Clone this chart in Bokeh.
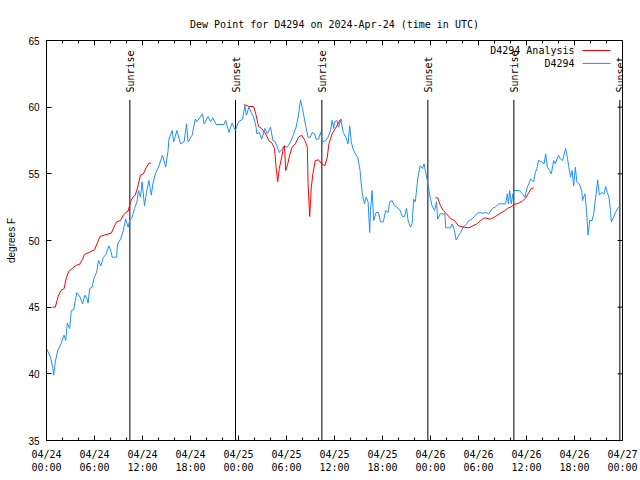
import math
from bokeh.plotting import figure
from bokeh.models import Range1d, FixedTicker, Title, ColumnDataSource
from bokeh.core.properties import value
from bokeh.embed import file_html
from bokeh.resources import INLINE

# ---------------- data ----------------
title_text = "Dew Point for D4294 on 2024-Apr-24 (time in UTC)"
y_label = "degrees F"
x_tick_hours = [0, 6, 12, 18, 24, 30, 36, 42, 48, 54, 60, 66, 72]
x_tick_labels = ["04/24\n00:00", "04/24\n06:00", "04/24\n12:00", "04/24\n18:00",
                 "04/25\n00:00", "04/25\n06:00", "04/25\n12:00", "04/25\n18:00",
                 "04/26\n00:00", "04/26\n06:00", "04/26\n12:00", "04/26\n18:00",
                 "04/27\n00:00"]
x_minor_hours = list(range(0, 73, 2))
y_ticks = [35, 40, 45, 50, 55, 60, 65]
series_names = ["D4294 Analysis", "D4294"]

# observations (hours since 04/24 00:00 UTC, dew point degF)
obs_hours = [0.0, 0.5, 0.8, 0.9, 1.1, 1.4, 1.8, 2.2, 2.4, 2.6, 2.9, 3.1, 3.4, 3.6, 3.8,
             4.2, 4.5, 4.8, 5.1, 5.2, 5.4, 5.7, 5.9, 6.25, 6.5, 6.8, 7.1, 7.4, 7.8, 8.1,
             8.2, 8.75, 8.9, 9.25, 9.6, 9.9, 10.2, 10.4, 10.7, 11.0, 11.3, 11.5, 11.75,
             11.95, 12.25, 12.5, 12.8, 13.1, 13.3, 13.6, 14.0, 14.5, 14.9, 15.2, 15.3,
             15.7, 15.9, 16.3, 16.75, 17.2, 17.5, 17.7, 18.2, 18.6, 18.8, 19.2, 19.5,
             19.7, 20.2, 20.5, 20.8, 21.2, 22.2, 22.4, 22.8, 23.2, 23.6, 24.0, 24.5,
             24.8, 25.0, 25.3, 25.6, 25.9, 26.2, 26.3, 26.6, 26.9, 27.3, 27.6, 28.0,
             28.3, 28.6, 29.1, 29.5, 29.7, 30.1, 30.5, 30.9, 31.2, 31.5, 31.75, 32.0,
             32.2, 32.4, 32.7, 33.0, 33.2, 33.5, 33.7, 34.0, 34.25, 34.5, 34.9, 35.2,
             35.5, 35.7, 35.9, 36.0, 36.3, 36.5, 36.8, 37.1, 37.4, 37.7, 37.9, 38.1,
             38.3, 38.6, 38.9, 39.2, 39.3, 39.5, 39.75, 39.96, 40.2, 40.4, 40.5, 40.7,
             40.9, 41.2, 41.5, 41.75, 42.1, 42.4, 42.7, 42.9, 43.2, 43.5, 43.8, 44.2,
             44.5, 44.75, 45.0, 45.2, 45.5, 45.7, 45.9, 46.1, 46.4, 46.7, 47.0, 47.2,
             47.4, 47.6, 47.8, 48.0, 48.2, 48.5, 48.75, 48.9, 49.2, 49.8, 49.9, 50.5,
             50.7, 51.0, 51.2, 51.4, 51.75, 52.1, 52.5, 52.8, 53.2, 53.6, 54.0, 54.4,
             54.9, 55.3, 55.7, 56.1, 56.5, 57.4, 57.6, 57.75, 57.9, 58.1, 58.3, 58.5,
             59.1, 59.5, 59.8, 60.1, 60.3, 60.5, 60.7, 60.9, 61.1, 61.3, 61.5, 61.9,
             62.2, 62.4, 62.6, 62.9, 63.1, 63.4, 63.6, 64.0, 64.25, 64.5, 64.9, 65.1,
             65.3, 65.5, 65.7, 65.9, 66.1, 66.3, 66.6, 66.9, 67.0, 67.3, 67.5, 67.7,
             67.9, 68.2, 68.4, 68.6, 68.9, 69.1, 69.4, 69.7, 69.9, 70.1, 70.3, 70.5,
             70.6, 70.9, 71.1, 71.5, 71.75]
obs_dewpt = [41.9, 41.25, 40.4, 39.9, 40.9, 41.75, 42.25, 42.9, 42.5, 43.8, 43.4, 44.75,
             44.8, 45.5, 46.1, 45.75, 45.25, 45.9, 45.6, 45.3, 46.4, 46.5, 47.1, 47.6,
             48.5, 48.1, 48.75, 48.9, 49.6, 49.1, 48.75, 48.75, 49.75, 50.1, 50.75, 51.6,
             51.0, 51.5, 51.75, 52.4, 52.9, 53.75, 53.25, 54.4, 52.6, 53.6, 54.5, 53.4,
             54.25, 55.0, 55.5, 56.4, 55.5, 56.75, 57.6, 58.25, 57.4, 58.25, 57.25, 57.4,
             58.75, 57.4, 57.9, 59.1, 58.9, 59.25, 59.5, 58.75, 59.3, 58.9, 59.2, 58.7,
             58.7, 59.0, 58.1, 58.8, 58.25, 58.9, 59.1, 60.1, 59.4, 60.0, 59.6, 59.25,
             58.5, 58.0, 58.1, 57.6, 58.4, 58.0, 58.5, 57.5, 57.4, 56.6, 56.9, 57.1,
             57.0, 57.4, 58.0, 58.5, 59.4, 60.55, 59.9, 59.25, 58.6, 57.75, 57.75, 58.1,
             58.0, 57.6, 57.6, 58.1, 57.4, 57.5, 57.75, 58.25, 59.0, 58.4, 58.9, 59.0,
             58.5, 59.05, 58.1, 57.75, 57.25, 58.6, 57.4, 56.9, 56.5, 56.25, 55.25, 54.5,
             53.4, 52.75, 53.25, 52.9, 50.6, 52.25, 53.75, 51.5, 52.1, 52.1, 51.4, 51.4,
             52.25, 52.1, 52.9, 53.0, 52.6, 52.5, 52.25, 51.8, 51.8, 52.4, 51.5, 51.0,
             51.25, 53.1, 52.9, 54.6, 55.6, 55.4, 55.75, 55.1, 54.5, 53.75, 53.1, 52.6,
             52.25, 52.9, 51.6, 52.0, 52.0, 50.95, 50.95, 51.25, 50.75, 50.05, 50.25,
             50.6, 51.0, 51.25, 51.5, 51.6, 51.9, 52.1, 52.05, 52.1, 52.0, 52.4, 52.5,
             52.75, 52.75, 53.5, 52.75, 53.75, 52.75, 53.5, 53.75, 53.75, 53.5, 53.25,
             54.0, 54.25, 54.6, 54.5, 54.4, 55.1, 55.4, 56.0, 55.9, 55.75, 56.5, 55.5,
             55.25, 55.0, 56.0, 55.75, 56.4, 56.1, 56.0, 56.9, 56.25, 55.5, 54.75, 55.25,
             54.1, 55.5, 54.4, 54.25, 53.75, 53.0, 53.5, 52.25, 50.4, 51.5, 51.5, 52.0,
             53.0, 54.55, 53.4, 53.6, 53.5, 54.05, 53.6, 53.25, 52.25, 51.4, 51.75, 52.1,
             52.5, 52.4]

# analysis, three runs
ana1_hours = [0.75, 1.1, 1.5, 1.8, 2.2, 2.5, 2.8, 3.2, 3.6, 4.2, 4.5, 4.75, 5.3, 6.0,
              6.3, 6.7, 7.2, 8.1, 8.4, 8.75, 9.25, 9.6, 9.9, 10.2, 10.5, 10.8, 11.1,
              11.4, 11.75, 12.1, 12.5, 12.8, 13.1]
ana1_dewpt = [45.0, 45.0, 45.9, 46.25, 46.4, 47.25, 47.7, 47.9, 48.1, 48.25, 48.6,
              48.95, 49.1, 49.3, 49.75, 50.3, 50.4, 50.55, 50.95, 51.4, 51.5, 51.9,
              52.1, 52.2, 52.9, 53.25, 53.4, 54.0, 54.9, 55.0, 55.5, 55.8, 55.8]
ana2_hours = [24.67, 25.3, 25.9, 26.2, 26.5, 26.9, 27.4, 27.8, 28.2, 28.5, 28.7, 28.9,
              29.1, 29.4, 29.6, 29.75, 29.9, 30.1, 30.4, 30.7, 31.1, 31.5, 31.9, 32.3,
              32.6, 32.7, 32.9, 33.1, 33.3, 33.6, 34.0, 34.4, 34.8, 35.1, 35.3, 35.7,
              36.1, 36.3, 36.7, 36.9]
ana2_dewpt = [60.2, 60.05, 60.05, 59.4, 58.55, 58.4, 58.0, 57.5, 57.3, 56.9, 55.5, 54.4,
              55.4, 56.25, 56.9, 57.1, 55.25, 55.6, 56.4, 57.0, 57.25, 57.75, 57.9, 57.5,
              57.0, 54.25, 51.8, 54.0, 55.0, 56.0, 56.05, 55.75, 55.6, 56.25, 57.25, 58.0,
              58.4, 58.6, 59.05, 59.05]
ana3_hours = [48.6, 48.9, 49.25, 49.6, 50.0, 50.6, 51.0, 51.5, 52.2, 52.8, 53.3, 53.8,
              54.25, 54.8, 55.5, 56.1, 56.6, 57.2, 57.6, 58.0, 58.5, 59.0, 59.5, 59.9,
              60.3, 60.6, 60.9]
ana3_dewpt = [53.2, 53.2, 52.6, 52.25, 52.0, 51.6, 51.5, 51.1, 51.0, 50.95, 51.1, 51.25,
              51.5, 51.7, 51.6, 51.8, 52.0, 52.2, 52.4, 52.5, 52.7, 52.8, 52.95, 53.2,
              53.6, 53.9, 53.95]

event_hours = [10.42, 23.63, 34.42, 47.67, 58.42, 71.67]
event_names = ["Sunrise", "Sunset", "Sunrise", "Sunset", "Sunrise", "Sunset"]

# ---------------- style ----------------
MONO = "DejaVu Sans Mono"
SANS = "Liberation Sans"
RED = "#ff0000"
BLUE = "#1e90ff"
X0, X1 = x_tick_hours[0], x_tick_hours[-1]
Y0, Y1 = y_ticks[0], y_ticks[-1]

p = figure(width=640, height=480, output_backend="svg", toolbar_location=None,
           x_range=Range1d(X0, X1), y_range=Range1d(Y0, Y1), title=None,
           min_border_left=46, min_border_right=18, min_border_top=40,
           min_border_bottom=40)
p.xgrid.visible = False
p.ygrid.visible = False
p.outline_line_color = "black"
p.outline_line_alpha = 1.0
p.background_fill_color = "white"
p.border_fill_color = "white"

xt = FixedTicker(ticks=x_tick_hours, minor_ticks=x_minor_hours)
yt = FixedTicker(ticks=y_ticks, minor_ticks=[])

def style_axis(ax, minor=True):
    ax.axis_line_color = "black"
    ax.major_tick_line_color = "black"
    ax.minor_tick_line_color = "black"
    ax.major_tick_in = 5
    ax.major_tick_out = 0
    ax.minor_tick_in = 3 if minor else 0
    ax.minor_tick_out = 0

xa = p.xaxis[0]
xa.ticker = xt
xa.major_label_overrides = {h: lab for h, lab in zip(x_tick_hours, x_tick_labels)}
xa.major_label_text_font = MONO
xa.major_label_text_font_size = "10px"
xa.major_label_text_color = "black"
xa.major_label_standoff = 8
style_axis(xa)

ya = p.yaxis[0]
ya.ticker = yt
ya.major_label_text_font = SANS
ya.major_label_text_font_size = "10px"
ya.major_label_text_color = "black"
ya.major_label_standoff = 7
ya.axis_label = y_label
ya.axis_label_text_font = SANS
ya.axis_label_text_font_size = "10px"
ya.axis_label_text_font_style = "normal"
ya.axis_label_text_color = "black"
ya.axis_label_standoff = 8
style_axis(ya, minor=False)

# mirrored inward ticks on the top and right edges of the frame
p.ray(x=x_tick_hours, y=Y1, length=5, length_units="screen", angle=-math.pi / 2,
      line_color="black", line_width=1)
p.ray(x=x_minor_hours, y=Y1, length=3, length_units="screen", angle=-math.pi / 2,
      line_color="black", line_width=1)
p.ray(x=X1, y=y_ticks, length=5, length_units="screen", angle=math.pi,
      line_color="black", line_width=1)

p.add_layout(Title(text=title_text, align="center", text_font=MONO,
                   text_font_size="10px", text_font_style="normal",
                   text_color="black", standoff=22), "above")

# sunrise / sunset markers
ev = ColumnDataSource(dict(x=event_hours, name=event_names))
LINE_TOP = 60.55
LABEL_BASE = 61.1
p.segment(x0="x", y0=Y0, x1="x", y1=LINE_TOP, source=ev, line_color="black", line_width=1)
p.text(x="x", y=LABEL_BASE, text="name", source=ev, angle=math.pi / 2,
       text_align="left", text_baseline="middle", x_offset=1,
       text_font=value(MONO), text_font_size="10px", text_color="black")

# data lines
p.line(obs_hours, obs_dewpt, line_color=BLUE, line_width=1)
for hh, vv in [(ana1_hours, ana1_dewpt), (ana2_hours, ana2_dewpt), (ana3_hours, ana3_dewpt)]:
    p.line(hh, vv, line_color=RED, line_width=1)

# legend (label left of sample, as in the original)
leg_y = [64.25, 63.28]
leg_text_x = 66.0
leg_x0, leg_x1 = 67.0, 70.5
p.text(x=[leg_text_x] * 2, y=leg_y, text=series_names, text_align="right",
       text_baseline="middle", text_font=value(MONO), text_font_size="10px",
       text_color="black")
p.segment(x0=[leg_x0] * 2, y0=leg_y, x1=[leg_x1] * 2, y1=leg_y,
          line_color=[RED, BLUE], line_width=1)

open("out.html", "w").write(file_html(p, INLINE))
